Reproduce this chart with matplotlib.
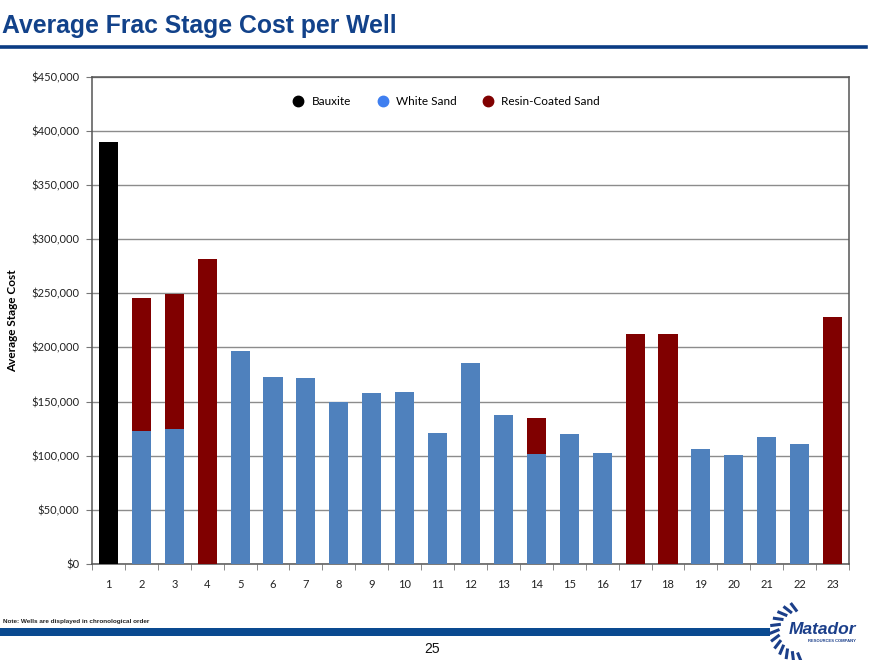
import matplotlib
matplotlib.use("Agg")
import matplotlib.pyplot as plt
from matplotlib.lines import Line2D
from matplotlib.patches import Rectangle
import numpy as np

wells = list(range(1, 24))
bauxite = [390000] + [0] * 22
white_sand = [0, 123000, 124500, 0, 197000, 173000, 172000, 150000, 157700, 159200,
              120800, 186000, 138000, 101500, 120000, 102500, 0, 0, 106500, 100500,
              117000, 111000, 0]
resin_total = [0, 246000, 249000, 282000, 0, 0, 0, 0, 0, 0,
               0, 0, 0, 135000, 0, 0, 212000, 212000, 0, 0,
               0, 0, 228000]
resin_coated = [max(r - w, 0) if r else 0 for r, w in zip(resin_total, white_sand)]
yticks = list(range(0, 450001, 50000))
ytick_labels = ["$0"] + [f"${v:,}" for v in yticks[1:]]
title = "Average Frac Stage Cost per Well"
ylabel = "Average Stage Cost"
legend_labels = ["Bauxite", "White Sand", "Resin-Coated Sand"]
note = "Note: Wells are displayed in chronological order"
page = "25"

C_BAUX = "#000000"
C_WHITE = "#4F81BD"
C_RESIN = "#800000"
C_LEG_WHITE = "#3F7FF0"
NAVY = "#0B3C84"
FONT = ["Lato", "DejaVu Sans"]

fig = plt.figure(figsize=(8.8, 6.6), dpi=100)
ax = fig.add_axes([92 / 880, 1 - 564 / 660, (849 - 92) / 880, (564 - 76.5) / 660])

x = np.array(wells)
w = 0.58
ax.bar(x, bauxite, width=w, color=C_BAUX, zorder=3)
ax.bar(x, white_sand, width=w, color=C_WHITE, zorder=3)
ax.bar(x, resin_coated, width=w, bottom=white_sand, color=C_RESIN, zorder=3)

ax.set_xlim(0.5, 23.5)
ax.set_ylim(0, 450000)
ax.set_yticks(yticks)
ax.set_yticklabels(ytick_labels, fontfamily=FONT, fontsize=8, color="#222222")
ax.set_xticks(x)
ax.set_xticklabels([str(v) for v in wells], fontfamily=FONT, fontsize=8, color="#222222")
ax.set_xticks(np.arange(0.5, 24.0, 1.0), minor=True)
ax.tick_params(axis="x", which="major", length=0, pad=11)
ax.tick_params(axis="x", which="minor", length=4, color="#777777", direction="out")
ax.tick_params(axis="y", length=4, color="#777777", direction="out", pad=5)
ax.yaxis.grid(True, color="#8C8C8C", linewidth=1.0, zorder=0)
ax.set_axisbelow(True)
for s in ax.spines.values():
    s.set_color("#555555")
    s.set_linewidth(1.1)

ax.set_ylabel(ylabel, fontfamily=FONT, fontsize=8.5, fontweight="bold")
ax.yaxis.set_label_coords(-0.098, 0.5)

handles = [Line2D([], [], marker="o", linestyle="none", markersize=7.5, color=c)
           for c in (C_BAUX, C_LEG_WHITE, C_RESIN)]
leg = ax.legend(handles, legend_labels, loc="center", bbox_to_anchor=(0.468, 0.948),
                ncol=3, frameon=False, prop={"family": FONT, "size": 8.5},
                handletextpad=0.6, columnspacing=2.2, handlelength=1.0)

# Title and header line
fig.text(2 / 880, 1 - 26 / 660, title, fontfamily="Liberation Sans", fontweight="bold",
         fontsize=17.8, color="#12428A", va="center", ha="left")
fig.add_artist(Line2D([0, 866 / 880], [1 - 47 / 660, 1 - 47 / 660], color=NAVY,
                      linewidth=2.6, transform=fig.transFigure))

# Footer
fig.text(3 / 880, 1 - 622 / 660, note, fontfamily="Liberation Sans", fontsize=4.6,
         fontweight="bold", color="#222222", va="center", ha="left")
fig.add_artist(Rectangle((0, 1 - 636 / 660), 770 / 880, 8 / 660, transform=fig.transFigure,
                         color="#0A4A90", linewidth=0))
fig.text(432 / 880, 1 - 649 / 660, page, fontfamily="Liberation Sans", fontsize=10,
         color="#111111", va="center", ha="center")

# Logo
cx, cy, r = 800, 632, 27
for ang in np.linspace(100, 265, 12):
    a = np.deg2rad(ang)
    x0, y0 = cx + (r - 5) * np.cos(a), cy - (r - 5) * np.sin(a)
    x1, y1 = cx + (r + 2) * np.cos(a + 0.12), cy - (r + 2) * np.sin(a + 0.12)
    fig.add_artist(Line2D([x0 / 880, x1 / 880], [1 - y0 / 660, 1 - y1 / 660],
                          color="#1B3F8A", linewidth=2.2, transform=fig.transFigure))
fig.text(822 / 880, 1 - 629 / 660, "Matador", fontfamily="Liberation Sans", fontsize=12.5,
         fontweight="bold", fontstyle="italic", color="#1B3F8A", va="center", ha="center")
fig.text(832 / 880, 1 - 641 / 660, "RESOURCES COMPANY", fontfamily="Liberation Sans",
         fontsize=3, fontweight="bold", color="#1B3F8A", va="center", ha="center")

fig.savefig("out.png", dpi=100)
